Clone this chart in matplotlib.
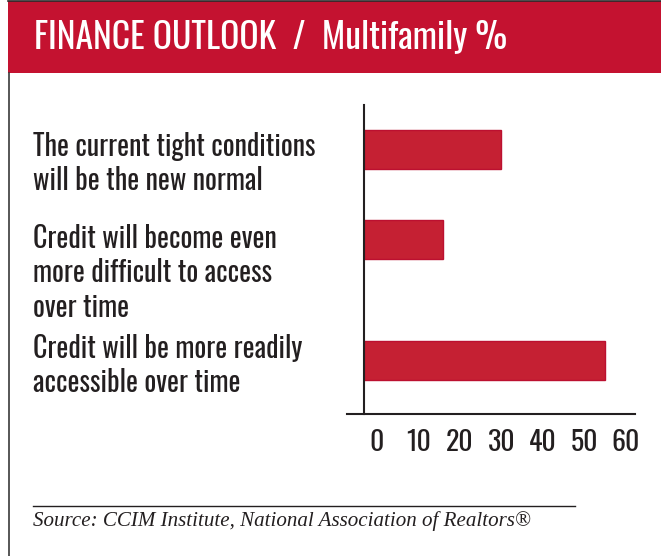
import numpy as np
import matplotlib
matplotlib.use("Agg")
import matplotlib.pyplot as plt
from matplotlib.patches import Rectangle
from matplotlib.lines import Line2D

# ---- data -------------------------------------------------------------
categories = [
    "The current tight conditions\nwill be the new normal",
    "Credit will become even\nmore difficult to access\nover time",
    "Credit will be more readily\naccessible over time",
]
shares = [30, 16, 55]
x_ticks = [0, 10, 20, 30, 40, 50, 60]

title = "FINANCE OUTLOOK  /  Multifamily %"
source = "Source: CCIM Institute, National Association of Realtors\u00ae"

# ---- style / layout ---------------------------------------------------
RED = "#C41230"
BAR_FILL = "#C52033"
BAR_EDGE = "#BC1030"
INK = "#231F20"
COND = ["Oswald", "DejaVu Sans"]
TITLE_FONT = ["Oswald", "DejaVu Sans"]

W, H = 661, 556
row_pos = [45, 135, 255]      # bar centres, px below the top of the plot area
bar_h = 39
spine_x = -3.1                # vertical axis sits a little left of zero
line_step = 34.5              # px between label lines

fig = plt.figure(figsize=(W / 100, H / 100), dpi=100)
fig.patch.set_facecolor("white")
renderer = fig.canvas.get_renderer()


def fx(px):
    return px / W


def fy(py):
    return 1 - py / H


def fit_width(txt, width_px):
    """Scale a text's font size so that it spans width_px pixels."""
    w = txt.get_window_extent(renderer).width
    txt.set_fontsize(txt.get_fontsize() * width_px / w)


# header band
fig.add_artist(Rectangle((fx(8), fy(73)), fx(W) - fx(8), fy(1) - fy(73),
                         transform=fig.transFigure, facecolor=RED,
                         edgecolor="none", zorder=0))
fig.add_artist(Line2D([fx(8), 1], [fy(0.6), fy(0.6)], transform=fig.transFigure,
                      color="#2a2a2a", lw=1.2))
# left frame line
fig.add_artist(Line2D([fx(8.5), fx(8.5)], [fy(73), 0], transform=fig.transFigure,
                      color="#3a3a3a", lw=1.2))
t = fig.text(fx(34), fy(48), title, color="white", fontsize=24,
             family=TITLE_FONT, weight=300, ha="left", va="baseline")
fit_width(t, 474)

# ---- bar chart ---------------------------------------------------------
ax = fig.add_axes([fx(347), fy(414), fx(635) - fx(347), fy(105) - fy(414)])
ax.set_xlim(-7.23, 62.17)
ax.set_ylim(309, 0)

vals = np.array(shares, dtype=float)
ax.barh(row_pos, vals - spine_x, left=spine_x, height=bar_h,
        color=BAR_FILL, edgecolor=BAR_EDGE, linewidth=1.0, zorder=2)

for s in ("top", "right"):
    ax.spines[s].set_visible(False)
ax.spines["left"].set_position(("data", spine_x))
ax.spines["left"].set_color(INK)
ax.spines["left"].set_linewidth(1.5)
ax.spines["left"].set_zorder(3)
ax.spines["bottom"].set_color(INK)
ax.spines["bottom"].set_linewidth(1.5)
ax.set_facecolor("none")

ax.set_yticks([])
ax.set_xticks(x_ticks)
ax.set_xticklabels([str(v) for v in x_ticks], family=COND, fontsize=20,
                   weight=500, color=INK)
ax.tick_params(axis="x", length=0, pad=11)

# category labels, one text per line on fixed baselines
first_baselines = [156, 248, 358]
label_width = 283  # width of the longest first line
probe = fig.text(0, 0, categories[0].split("\n")[0], family=COND,
                 fontsize=20, weight=400)
fit_width(probe, label_width)
label_size = probe.get_fontsize()
probe.remove()
for label, base in zip(categories, first_baselines):
    for i, line in enumerate(label.split("\n")):
        fig.text(fx(33), fy(base + i * line_step), line, family=COND,
                 fontsize=label_size, weight=400, color=INK,
                 ha="left", va="baseline")

# ---- source footer ----------------------------------------------------
fig.add_artist(Line2D([fx(33), fx(575)], [fy(506), fy(506)],
                      transform=fig.transFigure, color=INK, lw=1.0))
s = fig.text(fx(33), fy(526), source, family=["Liberation Serif", "DejaVu Serif"],
             style="italic", fontsize=14, color=INK, ha="left", va="baseline")
fit_width(s, 497)

fig.savefig("out.png", dpi=100, facecolor="white")
